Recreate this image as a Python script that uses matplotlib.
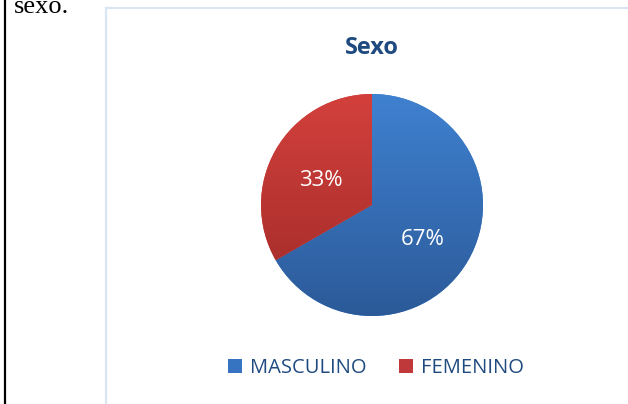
import numpy as np
import matplotlib
matplotlib.use("Agg")
import matplotlib.pyplot as plt
from matplotlib.patches import Rectangle
from matplotlib.colors import LinearSegmentedColormap

categorias = ["MASCULINO", "FEMENINO"]
valores = [66.7, 33.3]
titulo = "Sexo"

W, H = 628, 404
fig = plt.figure(figsize=(W / 100, H / 100), dpi=100)
fig.patch.set_facecolor("white")

# borde negro de la tabla y texto cortado arriba
fig.add_artist(plt.Line2D([5 / W, 5 / W], [0, 1], color="black", lw=1.6))
fig.text(14 / W, 1 - 13 / H, "sexo.", family="Liberation Serif", fontsize=19,
         color="black", va="baseline", ha="left")

# marco del grafico
fig.add_artist(Rectangle((106 / W, -0.1), 1.0, 1 - 8 / H + 0.1, transform=fig.transFigure,
                         fill=False, edgecolor="#DAE5F3", lw=1.6))

fig.text(372 / W, 1 - 48 / H, titulo, family="Open Sans", fontweight="bold",
         fontsize=17, color="#1F4A80", ha="center", va="center")

cx, cy, r = 372, 205, 111
ax = fig.add_axes([(cx - r) / W, 1 - (cy + r) / H, 2 * r / W, 2 * r / H])
colores_top = ["#3F81D0", "#D3403C"]
colores_bot = ["#2C5A99", "#9E2A28"]
wedges, textos, autot = ax.pie(valores, startangle=90, counterclock=False,
                               colors=colores_top, autopct="%.0f%%", pctdistance=0.53,
                               textprops=dict(color="white", fontsize=16, family="Open Sans"))
for w, top, bot in zip(wedges, colores_top, colores_bot):
    cmap = LinearSegmentedColormap.from_list("g", [bot, top])
    grad = np.linspace(0, 1, 256).reshape(-1, 1)
    im = ax.imshow(grad, extent=[-1, 1, -1, 1], origin="lower", cmap=cmap,
                   aspect="auto", zorder=1)
    im.set_clip_path(w)
    w.set_zorder(0)
for t in autot:
    x, y = t.get_position()
    t.set_position((x, y - 0.045))
    t.set_zorder(3)
ax.set_xlim(-1, 1)
ax.set_ylim(-1, 1)
ax.axis("off")

handles = [Rectangle((0, 0), 1, 1, facecolor=c) for c in ["#3673C0", "#C0393A"]]
leg = fig.legend(handles, categorias, loc="center", bbox_to_anchor=(376 / W, 1 - 368 / H),
                 ncol=2, frameon=False, handlelength=0.68, handleheight=0.68,
                 handletextpad=0.4, columnspacing=1.6,
                 prop=dict(family="Open Sans", size=14.5))
for t in leg.get_texts():
    t.set_color("#1F4A80")

fig.savefig("out.png", dpi=100)
